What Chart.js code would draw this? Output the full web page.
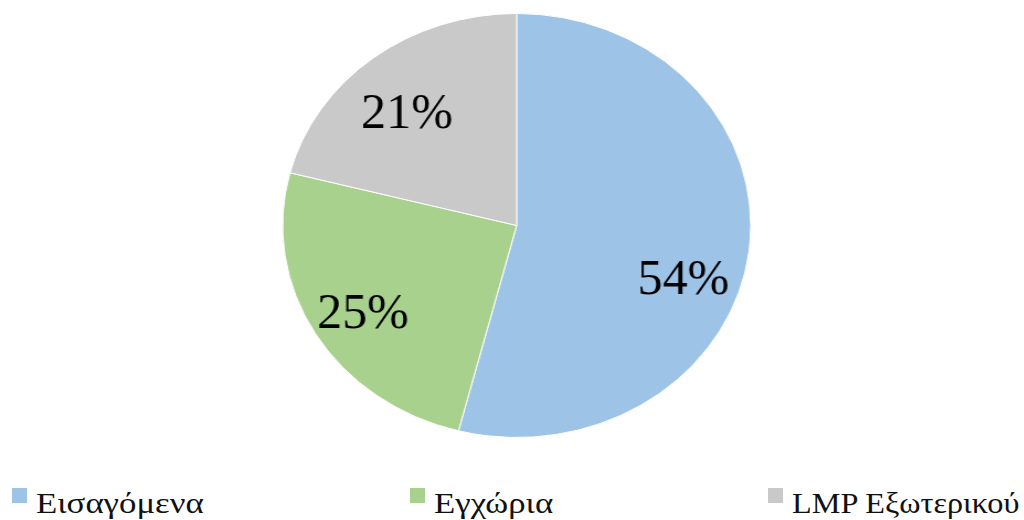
<!DOCTYPE html>
<html>
<head>
<meta charset="utf-8">
<script src="https://cdn.jsdelivr.net/npm/chart.js@4/dist/chart.umd.min.js"></script>
<style>
  html, body { margin: 0; padding: 0; background: #ffffff; }
  body { width: 1024px; height: 520px; position: relative; overflow: hidden; }
  #wrap { position: absolute; left: 0; top: 0; width: 928px; height: 450px; transform: scaleX(1.104); transform-origin: 0 0; }
  #legend { position: absolute; left: 0; top: 486px; width: 1024px; height: 34px;
    font-family: "Liberation Serif", "Times New Roman", serif; font-size: 30px; line-height: 34px; color: #111111; }
  .item { position: absolute; top: 0; white-space: nowrap; }
  .box { position: absolute; left: 0; top: 2px; width: 15px; height: 15px; }
  .txt { position: absolute; left: 24px; top: 0; display: inline-block; transform-origin: 0 0; }
</style>
</head>
<body>
<div id="wrap"><canvas id="c"></canvas></div>
<div id="legend"></div>
<script>
const categories = ["Εισαγόμενα", "Εγχώρια", "LMP Εξωτερικού"];
const shares = [54, 25, 21];
const percentLabels = ["54%", "25%", "21%"];
const sliceColors = ["#9DC3E6", "#A9D18E", "#C9C9C9"];

const legendLayout = { left: [12, 410, 768], textScaleX: [1.16, 1.16, 1.075] };

const labelPlugin = {
  id: 'sliceLabels',
  afterDatasetsDraw(chart, args, opts) {
    const ctx = chart.ctx;
    const meta = chart.getDatasetMeta(0);
    meta.data.forEach((arc, i) => {
      const p = arc.getProps(['x', 'y', 'startAngle', 'endAngle', 'outerRadius'], true);
      const a = (p.startAngle + p.endAngle) / 2 + opts.angleShift[i] * Math.PI / 180;
      const r = p.outerRadius * opts.radiusFraction[i];
      ctx.save();
      ctx.translate(p.x + Math.cos(a) * r, p.y + Math.sin(a) * r);
      ctx.scale(opts.textScaleX, 1);
      ctx.font = opts.font;
      ctx.fillStyle = opts.color;
      ctx.textAlign = 'center';
      ctx.textBaseline = 'middle';
      ctx.fillText(percentLabels[i], 0, 0);
      ctx.restore();
    });
  }
};

new Chart(document.getElementById('c'), {
  type: 'pie',
  data: {
    labels: categories,
    datasets: [{
      data: shares,
      backgroundColor: sliceColors,
      borderColor: '#ffffff',
      borderWidth: 1
    }]
  },
  options: {
    responsive: true,
    maintainAspectRatio: false,
    animation: false,
    layout: { padding: { top: 13, bottom: 12, left: 8, right: 0 } },
    plugins: {
      legend: { display: false },
      tooltip: { enabled: false },
      sliceLabels: {
        font: '50px "Liberation Serif", "Times New Roman", serif',
        color: '#000000',
        textScaleX: 1 / 1.104,
        angleShift: [12.8, -2.2, -4.1],
        radiusFraction: [0.758, 0.781, 0.702]
      }
    }
  },
  plugins: [labelPlugin]
});

const legend = document.getElementById('legend');
categories.forEach((name, i) => {
  const item = document.createElement('div');
  item.className = 'item';
  item.style.left = legendLayout.left[i] + 'px';
  const box = document.createElement('span');
  box.className = 'box';
  box.style.background = sliceColors[i];
  const txt = document.createElement('span');
  txt.className = 'txt';
  txt.style.transform = 'scaleX(' + legendLayout.textScaleX[i] + ')';
  txt.textContent = name;
  item.appendChild(box);
  item.appendChild(txt);
  legend.appendChild(item);
});
</script>
</body>
</html>
